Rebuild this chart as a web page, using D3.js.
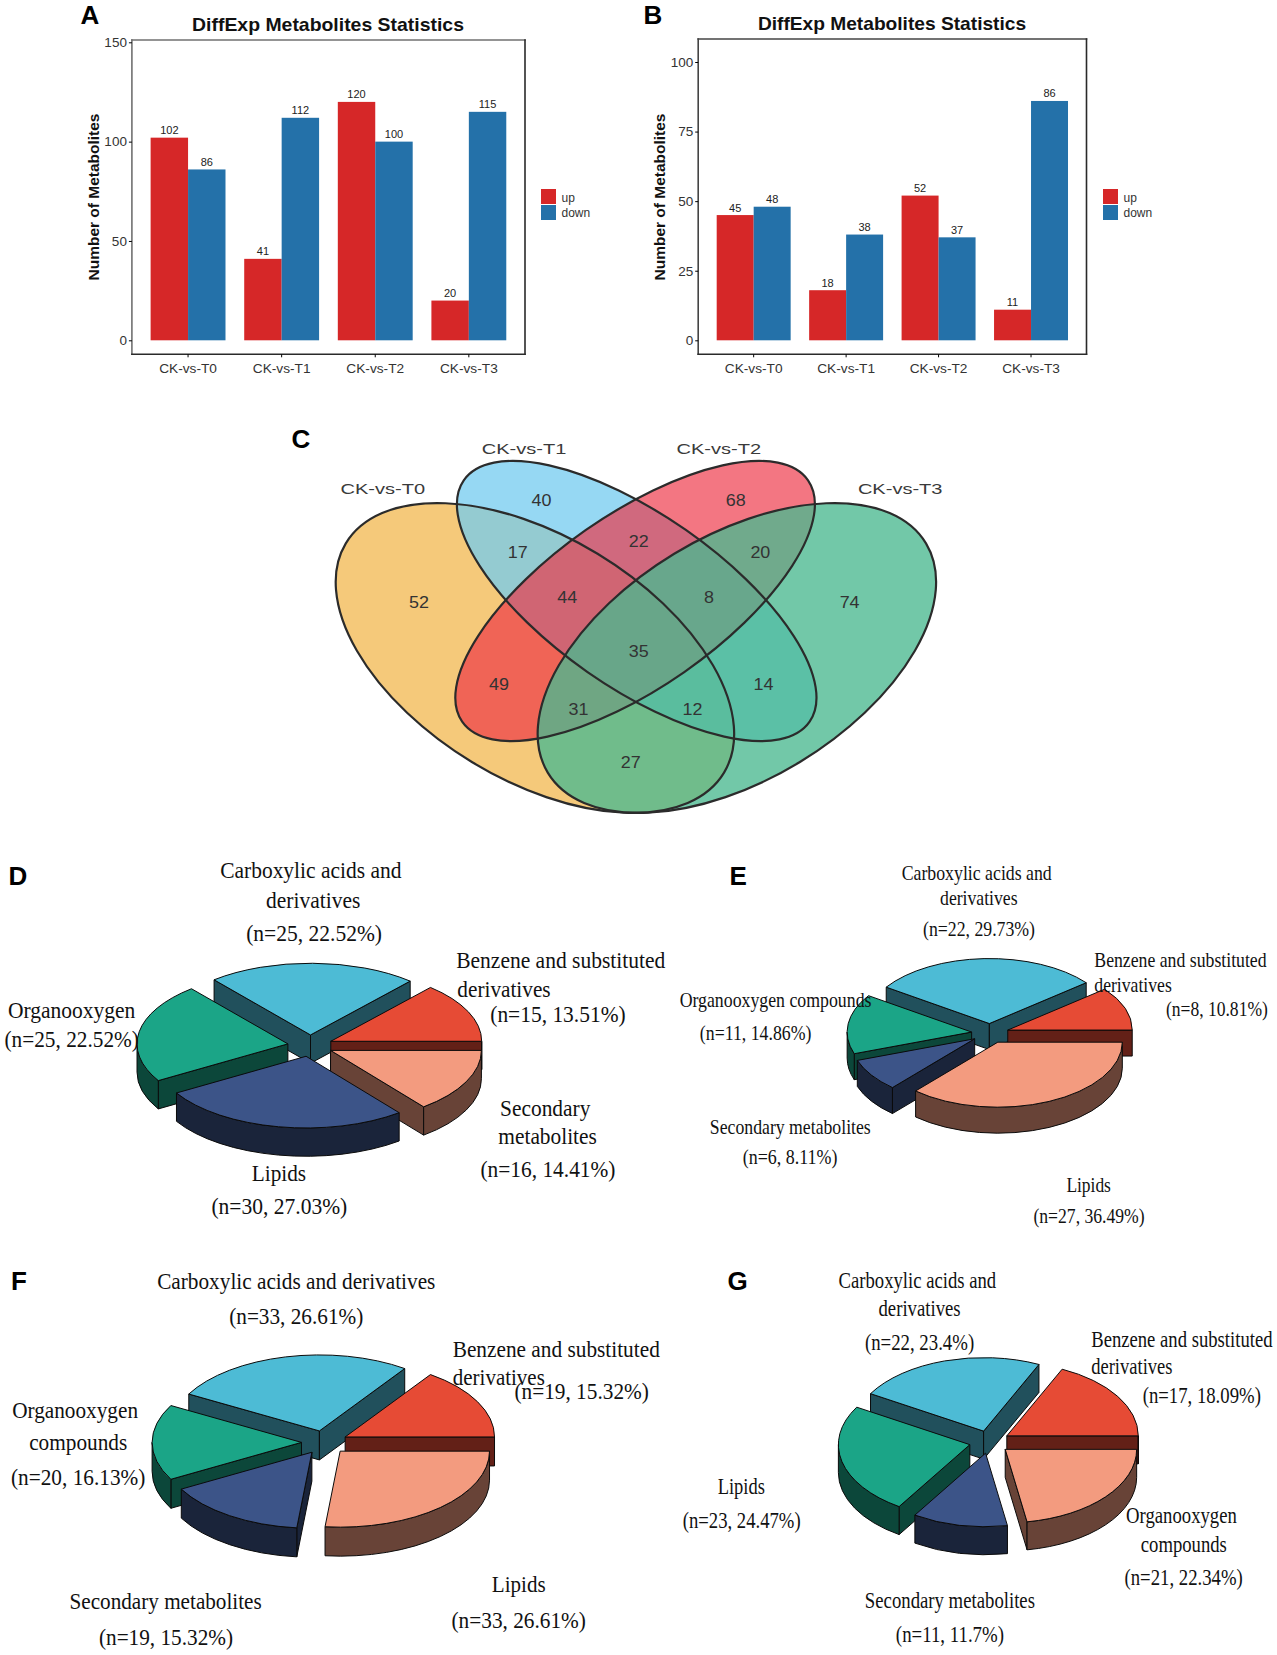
<!DOCTYPE html>
<html><head><meta charset="utf-8">
<script src="https://cdn.jsdelivr.net/npm/d3@7"></script>
<style>html,body{margin:0;padding:0;background:#fff}svg{display:block}</style>
</head><body><div id="chart"></div>
<script>
// ---------- data ----------
const groups = ["CK-vs-T0","CK-vs-T1","CK-vs-T2","CK-vs-T3"];
const seriesNames = ["up","down"];
const upA = [102,41,120,20];
const downA = [86,112,100,115];
const upB = [45,18,52,11];
const downB = [48,38,37,86];
const ticksA = [0,50,100,150];
const ticksB = [0,25,50,75,100];

const vennSets = ["CK-vs-T0","CK-vs-T1","CK-vs-T2","CK-vs-T3"];
const vennValues = [52,40,68,74,17,22,20,44,8,35,49,14,31,12,27];

const pieD = [25,15,16,30,25];
const pieE = [22,8,27,6,11];
const pieF = [33,19,33,19,20];
const pieG = [22,17,21,11,23];

// ---------- layout ----------
const W = 1277, H = 1655;
const svg = d3.select("#chart").append("svg").attr("width",W).attr("height",H).attr("viewBox",`0 0 ${W} ${H}`);
svg.append("rect").attr("width",W).attr("height",H).attr("fill","#fff");
const SANS = "'Liberation Sans',Arial,sans-serif", SERIF = "'Liberation Serif','Times New Roman',serif";
const RED = "#D62728", BLUE = "#2471A9";
const K = 0.9958;
const region = x0 => svg.append("g").attr("transform",`translate(${x0*(1-K)},0) scale(${K},1)`);

function fit(g, str, x, y, len, size, opt={}){
  const t = g.append("text").text(str)
    .attr("text-anchor",opt.anchor||"middle").attr("font-family",opt.family||SANS)
    .attr("font-size",size).attr("fill",opt.fill||"#111")
    .attr("font-weight",opt.weight||"normal");
  const sx = len ? len/t.node().getComputedTextLength() : 1;
  t.attr("transform",`translate(${x},${y})`+(opt.rotate?` rotate(${opt.rotate})`:"")+` scale(${sx},1)`);
  return t;
}

// ---------- bar panels ----------
function barPanel(o){
  const g = svg.append("g");
  const x = d3.scaleBand().domain(groups).range([o.left,o.right]).paddingInner(0.2).paddingOuter(0.2);
  const xi = d3.scaleBand().domain(seriesNames).range([0,x.bandwidth()]);
  const y = d3.scaleLinear().domain([0,o.tickMax]).range([o.y0,o.yMax]);
  const colors = {up:RED,down:BLUE};
  const vals = {up:o.up,down:o.down};
  seriesNames.forEach(s=>{
    g.append("g").selectAll("rect").data(groups).join("rect")
      .attr("x",d=>x(d)+xi(s)).attr("width",xi.bandwidth())
      .attr("y",(d,i)=>y(vals[s][i])).attr("height",(d,i)=>y(0)-y(vals[s][i]))
      .attr("fill",colors[s]);
    g.append("g").selectAll("text").data(groups).join("text")
      .attr("x",d=>x(d)+xi(s)+xi.bandwidth()/2).attr("y",(d,i)=>y(vals[s][i])-3.5)
      .attr("text-anchor","middle").attr("font-family",SANS).attr("font-size",11).attr("fill","#222")
      .text((d,i)=>vals[s][i]);
  });
  const border = [[o.left,o.top,o.right,o.top,o.soft],[o.left,o.top,o.left,o.bottom,o.soft],
    [o.right,o.top,o.right,o.bottom,"#2a2a2a"],[o.left,o.bottom,o.right,o.bottom,"#2a2a2a"]];
  g.append("g").selectAll("line").data(border).join("line")
    .attr("x1",d=>d[0]).attr("y1",d=>d[1]).attr("x2",d=>d[2]).attr("y2",d=>d[3])
    .attr("stroke",d=>d[4]).attr("stroke-width",1.6).attr("stroke-linecap","square");
  const yAxis = d3.axisLeft(y).tickValues(o.ticks).tickSize(3).tickPadding(2);
  const ya = g.append("g").attr("transform",`translate(${o.left},0)`).call(yAxis);
  ya.select(".domain").remove();
  ya.selectAll("text").attr("font-family",SANS).attr("font-size",13.5).attr("fill","#333");
  const xAxis = d3.axisBottom(x).tickSize(3).tickPadding(6);
  const xa = g.append("g").attr("transform",`translate(0,${o.bottom})`).call(xAxis);
  xa.select(".domain").remove();
  xa.selectAll("text").attr("font-family",SANS).attr("font-size",13.7).attr("fill","#333");
  fit(g,"DiffExp Metabolites Statistics",o.titleX,o.titleY,o.titleW,18,{weight:"bold"});
  fit(g,"Number of Metabolites",o.yTitleX,197,167,15,{weight:"bold",rotate:-90});
  seriesNames.forEach((s,i)=>{
    g.append("rect").attr("x",o.legX).attr("y",189+i*16).attr("width",15).attr("height",15).attr("fill",colors[s]);
    fit(g,s,o.legX+20.5,201.5+i*15.7,null,12,{anchor:"start",fill:"#333"});
  });
}
barPanel({left:131.9,right:525,top:40,bottom:354.3,y0:340.3,yMax:42.3,tickMax:150,ticks:ticksA,up:upA,down:downA,soft:"#707070",
  titleX:328,titleY:30.7,titleW:272,yTitleX:98.5,legX:541});
barPanel({left:698.2,right:1086.5,top:39,bottom:354.3,y0:340.3,yMax:62,tickMax:100,ticks:ticksB,up:upB,down:downB,soft:"#444",
  titleX:892,titleY:30,titleW:268.5,yTitleX:664.8,legX:1103});

// ---------- venn ----------
const venn = region(280);
const axis = 637.4;
const vennShapes = [
  {cx:536,   cy:658, a:221.8, b:121.8, rot:31.1,  fill:"#F5C97A", op:1},
  {cx:638.2, cy:601, a:211.5, b:86.5,  rot:34.8,  fill:"#73CBEF", op:0.75},
  {cx:636.6, cy:601, a:211.5, b:86.5,  rot:-34.8, fill:"#ED3244", op:0.67},
  {cx:2*axis-536, cy:658, a:221.8, b:121.8, rot:-31.1, fill:"#4AB990", op:0.78}
];
vennShapes.forEach(s=>venn.append("ellipse").attr("rx",s.a).attr("ry",s.b)
  .attr("transform",`translate(${s.cx},${s.cy}) rotate(${s.rot})`).attr("fill",s.fill).attr("fill-opacity",s.op));
vennShapes.forEach(s=>venn.append("ellipse").attr("rx",s.a).attr("ry",s.b)
  .attr("transform",`translate(${s.cx},${s.cy}) rotate(${s.rot})`).attr("fill","none").attr("stroke","#2b2b2b").attr("stroke-width",2.2));
const vennNamePos = [[383.2,494.3],[525,454],[720.6,454],[902.8,494.3]];
vennSets.forEach((s,i)=>fit(venn,s,vennNamePos[i][0],vennNamePos[i][1],85,15.5,{fill:"#3a3a3a"}));
const vennValuePos = [[419.5,601.7],[542.5,500],[737.7,500],[852,602.3],[518.7,552.3],[640.3,541],[762.4,552.3],
  [568.5,596.7],[710.8,596.7],[640.3,650.7],[499.9,684],[765.5,684],[579.7,709.3],[694.2,709.3],[632.2,762]];
vennValues.forEach((v,i)=>fit(venn,v,vennValuePos[i][0],vennValuePos[i][1]+6,String(v).length*10,16,{fill:"#333"}));

// ---------- 3D exploded pies ----------
const pieColors = ["#4DBBD5","#E64B35","#F39B7F","#3C5488","#1BA587"];
function shade(c){const r=d3.rgb(c);return d3.rgb(r.r*0.43,r.g*0.43,r.b*0.43).formatHex();}

function pie3d(values,o){
  const total = d3.sum(values);
  const start = Math.PI/2-(values[0]+values[1])/total*2*Math.PI;
  const arcs = d3.pie().sort(null).startAngle(start).endAngle(start+2*Math.PI)(values)
    .map((a,i)=>({...a,color:pieColors[i]}));
  const pt = (a,c)=>[c[0]+o.rx*Math.sin(a),c[1]-o.ry*Math.cos(a)];
  arcs.sort((p,q)=>Math.cos((q.startAngle+q.endAngle)/2)-Math.cos((p.startAngle+p.endAngle)/2));
  const g = region(o.x0);
  const attrs = sel=>sel.attr("stroke","#0a0a0a").attr("stroke-width",1).attr("stroke-linejoin","round");
  arcs.forEach(s=>{
    const mid=(s.startAngle+s.endAngle)/2;
    const c=[o.cx+o.explode*o.rx*Math.sin(mid),o.cy-o.explode*o.ry*Math.cos(mid)];
    const side=shade(s.color), sl=g.append("g");
    const face=a=>{const p=pt(a,c);
      attrs(sl.append("path").attr("fill",side).attr("d",
        `M${c} L${p} L${p[0]},${p[1]+o.depth} L${c[0]},${c[1]+o.depth}Z`));};
    if(Math.sin(s.startAngle)<0) face(s.startAngle);
    if(Math.sin(s.endAngle)>0) face(s.endAngle);
    [-1,0,1].forEach(k=>{
      const lo=Math.max(s.startAngle,Math.PI/2+2*Math.PI*k), hi=Math.min(s.endAngle,3*Math.PI/2+2*Math.PI*k);
      if(hi>lo){
        const p0=pt(lo,c),p1=pt(hi,c);
        attrs(sl.append("path").attr("fill",side).attr("d",
          `M${p0} A${o.rx},${o.ry} 0 0 1 ${p1} L${p1[0]},${p1[1]+o.depth} A${o.rx},${o.ry} 0 0 0 ${p0[0]},${p0[1]+o.depth}Z`));
      }
    });
    const a=pt(s.startAngle,c),b=pt(s.endAngle,c),large=s.endAngle-s.startAngle>Math.PI?1:0;
    attrs(sl.append("path").attr("fill",s.color).attr("d",
      `M${c} L${a} A${o.rx},${o.ry} 0 ${large} 1 ${b}Z`));
  });
  o.labels.forEach(l=>fit(g,l[0],l[1],l[2],l[3],o.font,{family:SERIF,fill:"#111"}));
}

pie3d(pieD,{x0:0,cx:311.5,cy:1045.7,rx:151.5,ry:71.7,depth:28.3,explode:0.15,font:24,labels:[
  ["Carboxylic acids and",312.1,878.3,182],["derivatives",314.5,908.3,94.6],["(n=25, 22.52%)",315.4,941,136.4],
  ["Benzene and substituted",563.1,968.3,210],["derivatives",506.1,996.7,93.7],["(n=15, 13.51%)",560.3,1021.7,136],
  ["Organooxygen",71.9,1018.3,128],["(n=25, 22.52%)",72,1046.7,135],
  ["Secondary",547.5,1116,90.7],["metabolites",549.9,1144,99],["(n=16, 14.41%)",550.3,1177.3,135.6],
  ["Lipids",280.1,1181,54.5],["(n=30, 27.03%)",280.5,1214.3,136.4]]});
pie3d(pieE,{x0:670,cx:991.5,cy:1033.3,rx:125,ry:65,depth:26,explode:0.15,font:22,labels:[
  ["Carboxylic acids and",978,880,150.6],["derivatives",980.1,905,77.8],["(n=22, 29.73%)",980.3,936,112.5],
  ["Benzene and substituted",1182.6,966.7,173],["derivatives",1135,992.3,77.8],["(n=8, 10.81%)",1219.2,1015.7,102.3],
  ["Organooxygen compounds",776,1007.3,192.6],["(n=11, 14.86%)",756,1040,112],
  ["Secondary metabolites",790.8,1134,161.5],["(n=6, 8.11%)",790.6,1164.3,95],
  ["Lipids",1090.4,1191.7,44.7],["(n=27, 36.49%)",1090.8,1222.7,111.7]]});
pie3d(pieF,{x0:0,cx:326,cy:1442.4,rx:150,ry:76,depth:29,explode:0.155,font:24,labels:[
  ["Carboxylic acids and derivatives",297.5,1289.3,279.4],["(n=33, 26.61%)",297.5,1324,134.7],
  ["Benzene and substituted",558.6,1356.7,208],["derivatives",500.9,1385,92.4],["(n=19, 15.32%)",584.1,1399.3,135],
  ["Organooxygen",75.4,1417.7,126.4],["compounds",78.5,1450,98.5],["(n=20, 16.13%)",78.5,1485,135],
  ["Secondary metabolites",166.3,1609,193],["(n=19, 15.32%)",166.7,1645,134.7],
  ["Lipids",520.9,1592.3,54],["(n=33, 26.61%)",520.9,1627.7,135]]});
pie3d(pieG,{x0:670,cx:991,cy:1442,rx:132,ry:73.5,depth:28,explode:0.155,font:23,labels:[
  ["Carboxylic acids and",918.4,1287.7,158.4],["derivatives",920.6,1315.7,82.5],["(n=22, 23.4%)",920.6,1350,109.7],
  ["Benzene and substituted",1184,1346.7,182],["derivatives",1133.8,1374.3,81.7],["(n=17, 18.09%)",1204,1402.7,118.7],
  ["Organooxygen",1183.6,1523.3,111.3],["compounds",1186,1551.7,86.4],["(n=21, 22.34%)",1185.8,1585,118.7],
  ["Lipids",741.6,1494,47.5],["(n=23, 24.47%)",742,1528.3,118.3],
  ["Secondary metabolites",951.1,1608.3,170.8],["(n=11, 11.7%)",951.1,1641.7,108.6]]});

// ---------- panel letters ----------
const panelLetters = ["A","B","C","D","E","F","G"];
const letterPos = [[80.5,24],[643.5,24],[291.5,448],[8.5,885],[729.5,885],[11,1290],[727.5,1290]];
panelLetters.forEach((l,i)=>fit(svg,l,letterPos[i][0],letterPos[i][1],null,26,{anchor:"start",weight:"bold",fill:"#000"}));
</script></body></html>
